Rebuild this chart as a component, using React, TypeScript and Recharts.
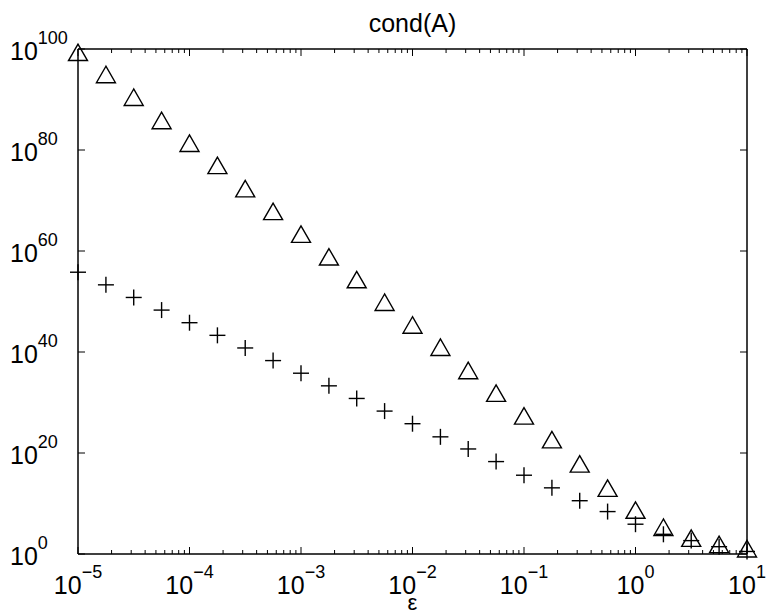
import React from "react";
import { ScatterChart, Scatter, XAxis, YAxis } from "recharts";

// epsilon, quarter-decade steps
const epsilon = [
  1e-5, 1.78e-5, 3.16e-5, 5.62e-5,
  1e-4, 1.78e-4, 3.16e-4, 5.62e-4,
  1e-3, 1.78e-3, 3.16e-3, 5.62e-3,
  1e-2, 1.78e-2, 3.16e-2, 5.62e-2,
  0.1, 0.178, 0.316, 0.562,
  1, 1.78, 3.16, 5.62,
  10,
];

// log10 of cond(A)
const triangleLog = [
  99.3, 94.9, 90.4, 85.8, 81.3, 76.9, 72.3, 67.8, 63.3, 58.8, 54.3, 49.8, 45.3,
  40.9, 36.3, 31.8, 27.3, 22.6, 17.8, 13.0, 8.65, 5.25, 3.1, 1.85, 1.0,
];
const plusLog = [
  55.8, 53.3, 50.8, 48.3, 45.8, 43.3, 40.8, 38.3, 35.8, 33.3, 30.8, 28.3, 25.8,
  23.2, 20.8, 18.3, 15.6, 13.1, 10.55, 8.4, 5.9, 3.9, 2.65, 1.45, 0.5,
];

const xDecades = [-5, -4, -3, -2, -1, 0, 1];
const yTickExps = [0, 20, 40, 60, 80, 100];

const triangleData = epsilon.map((x, i) => ({ x, y: 10 ** triangleLog[i] }));
const plusData = epsilon.map((x, i) => ({ x, y: 10 ** plusLog[i] }));

const xTicks: number[] = [];
xDecades.forEach((d) => {
  xTicks.push(10 ** d);
  if (d < 1) for (let m = 2; m <= 9; m++) xTicks.push(m * 10 ** d);
});
const yTicks = yTickExps.map((e) => 10 ** e);

const FONT = '"Liberation Sans", Arial, Helvetica, sans-serif';

function isMajor(v: number) {
  const l = Math.log10(v);
  return Math.abs(l - Math.round(l)) < 1e-6;
}
function expLabel(v: number) {
  const e = Math.round(Math.log10(v));
  return e < 0 ? "\u2212" + -e : String(e);
}

function XTick({ x, y, payload, side }: any) {
  const major = isMajor(payload.value);
  const len = major ? 7 : 4;
  const dir = side === "bottom" ? -1 : 1;
  return (
    <g>
      <line x1={x} x2={x} y1={y} y2={y + dir * len} stroke="#000" strokeWidth={1} />
      {major && side === "bottom" && (
        <text x={x} y={y + 40} textAnchor="middle" fontSize={25} fill="#000" fontFamily={FONT}>
          10
          <tspan dy={-16} fontSize={18}>{expLabel(payload.value)}</tspan>
        </text>
      )}
    </g>
  );
}

function YTick({ x, y, payload, side }: any) {
  const dir = side === "left" ? 1 : -1;
  return (
    <g>
      <line x1={x} x2={x + dir * 7} y1={y} y2={y} stroke="#000" strokeWidth={1} />
      {side === "left" && (
        <text x={x - 68} y={y + 10.5} textAnchor="start" fontSize={25} fill="#000" fontFamily={FONT}>
          10
          <tspan dy={-16} fontSize={18}>{expLabel(payload.value)}</tspan>
        </text>
      )}
    </g>
  );
}

function Triangle({ cx, cy }: any) {
  return (
    <polygon
      points={`${cx},${cy - 8.5} ${cx - 9.5},${cy + 8} ${cx + 9.5},${cy + 8}`}
      fill="none"
      stroke="#000"
      strokeWidth={1.4}
    />
  );
}

function Plus({ cx, cy }: any) {
  return (
    <g stroke="#000" strokeWidth={1.4}>
      <line x1={cx - 8} x2={cx + 8} y1={cy} y2={cy} />
      <line x1={cx} x2={cx} y1={cy - 8} y2={cy + 8} />
    </g>
  );
}

const axisLine = { stroke: "#000", strokeWidth: 1.5 };

export default function App() {
  return (
    <div style={{ position: "absolute", left: 0, top: 0, width: 768, height: 614, background: "#fff" }}>
      <ScatterChart
        width={768}
        height={614}
        margin={{ top: 0, right: 0, bottom: 0, left: 0 }}
        style={{ fontFamily: FONT }}
      >
        <XAxis
          xAxisId="bottom"
          dataKey="x"
          type="number"
          scale="log"
          domain={[1e-5, 10]}
          ticks={xTicks}
          interval={0}
          height={60}
          orientation="bottom"
          tickSize={0}
          tickMargin={0}
          tickLine={false}
          axisLine={axisLine}
          tick={<XTick side="bottom" />}
        />
        <XAxis
          xAxisId="top"
          dataKey="x"
          type="number"
          scale="log"
          domain={[1e-5, 10]}
          ticks={xTicks}
          interval={0}
          height={49}
          orientation="top"
          tickSize={0}
          tickMargin={0}
          tickLine={false}
          axisLine={axisLine}
          tick={<XTick side="top" />}
        />
        <YAxis
          yAxisId="left"
          dataKey="y"
          type="number"
          scale="log"
          domain={[1, 1e100]}
          ticks={yTicks}
          interval={0}
          width={78}
          orientation="left"
          tickSize={0}
          tickMargin={0}
          tickLine={false}
          axisLine={axisLine}
          tick={<YTick side="left" />}
        />
        <YAxis
          yAxisId="right"
          dataKey="y"
          type="number"
          scale="log"
          domain={[1, 1e100]}
          ticks={yTicks}
          interval={0}
          width={21}
          orientation="right"
          tickSize={0}
          tickMargin={0}
          tickLine={false}
          axisLine={axisLine}
          tick={<YTick side="right" />}
        />
        <Scatter
          xAxisId="bottom"
          yAxisId="left"
          data={plusData}
          shape={<Plus />}
          isAnimationActive={false}
        />
        <Scatter
          xAxisId="bottom"
          yAxisId="left"
          data={triangleData}
          shape={<Triangle />}
          isAnimationActive={false}
        />
        <Scatter
          xAxisId="top"
          yAxisId="right"
          data={triangleData}
          shape={() => <g />}
          isAnimationActive={false}
        />
      </ScatterChart>
      <svg width={768} height={614} style={{ position: "absolute", left: 0, top: 0, pointerEvents: "none" }}>
        <text x={412.5} y={32} textAnchor="middle" fontSize={25} fill="#000" fontFamily={FONT}>
          cond(A)
        </text>
        <text x={412.5} y={610} textAnchor="middle" fontSize={22} fill="#000" fontFamily={FONT}>
          ε
        </text>
      </svg>
    </div>
  );
}
